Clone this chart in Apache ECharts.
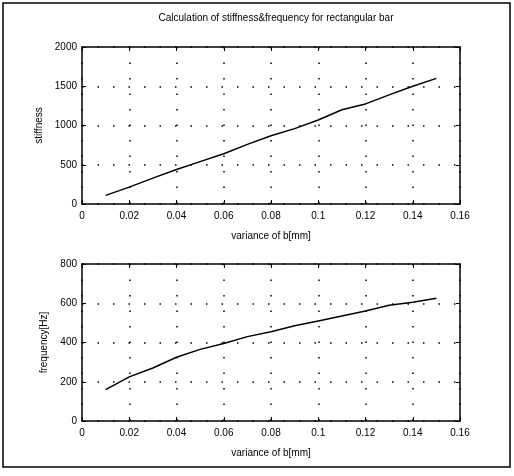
<!DOCTYPE html>
<html lang="en">
<head>
    <meta charset="UTF-8">
    <title>stiffness & frequency</title>
    <script src="https://cdn.jsdelivr.net/npm/echarts@6/dist/echarts.min.js"></script>
    <style>
        body { margin: 0; background: #fff; }
        #chart { width: 514px; height: 476px; }
    </style>
</head>
<body>
    <div id="chart"></div>
    <script>
    // variance of b [mm]
    const variance = [0.01, 0.02, 0.03, 0.04, 0.05, 0.06, 0.07, 0.08, 0.09, 0.10, 0.11, 0.12, 0.13, 0.14, 0.15];
    const stiffness = [110, 215, 330, 440, 540, 640, 760, 870, 960, 1070, 1200, 1275, 1390, 1500, 1600];
    const frequency = [160, 225, 270, 325, 365, 395, 430, 455, 485, 510, 535, 560, 590, 605, 625];

    const xRange = [0, 0.16, 0.02];
    const stiffRange = [0, 2000, 500];
    const freqRange = [0, 800, 200];

    var font = '"Liberation Sans", Arial, sans-serif';
    var gridDots = { show: true, lineStyle: { color: '#000', width: 1.5, type: [1.5, 14] } };

    function axisBase(gi, range) {
        return {
            gridIndex: gi, type: 'value', min: range[0], max: range[1], interval: range[2],
            axisLine: { show: true, onZero: false, lineStyle: { color: '#000', width: 1.5 } },
            axisTick: { show: true, inside: true, length: 4, lineStyle: { color: '#000' } },
            splitLine: { show: false }
        };
    }

    function xAxes(gi) {
        var base = axisBase(gi, xRange);
        return [
            Object.assign({}, base, {
                position: 'bottom',
                name: 'variance of b[mm]', nameLocation: 'middle', nameGap: 27,
                nameTextStyle: { color: '#000', fontSize: 10, fontFamily: font },
                axisLabel: { color: '#000', fontSize: 10, fontFamily: font, margin: 7,
                    formatter: v => String(+v.toFixed(2)) },
                splitLine: gridDots
            }),
            Object.assign({}, base, { position: 'top', axisLabel: { show: false } })
        ];
    }

    function yAxes(gi, range, name) {
        var base = axisBase(gi, range);
        return [
            Object.assign({}, base, {
                position: 'left',
                name: name, nameLocation: 'middle', nameGap: 33,
                nameTextStyle: { color: '#000', fontSize: 10, fontFamily: font },
                axisLabel: { color: '#000', fontSize: 10, fontFamily: font, margin: 5,
                    formatter: v => String(v) },
                splitLine: gridDots
            }),
            Object.assign({}, base, { position: 'right', axisLabel: { show: false } })
        ];
    }

    var chart = echarts.init(document.getElementById('chart'));
    var option = {
        backgroundColor: '#fff',
        animation: false,
        title: {
            text: 'Calculation of stiffness&frequency for rectangular bar',
            left: 271, top: 8, textAlign: 'center',
            textStyle: { color: '#000', fontSize: 10, fontWeight: 'normal', fontFamily: font }
        },
        graphic: [{
            type: 'rect',
            shape: { x: 3, y: 3, width: 507, height: 464 },
            style: { fill: 'none', stroke: '#000', lineWidth: 1.5 }
        }],
        grid: [
            { left: 82, top: 47, width: 378, height: 157 },
            { left: 82, top: 264, width: 378, height: 157 }
        ],
        xAxis: xAxes(0).concat(xAxes(1)),
        yAxis: yAxes(0, stiffRange, 'stiffness').concat(yAxes(1, freqRange, 'frequency[Hz]')),
        series: [
            {
                type: 'line', xAxisIndex: 0, yAxisIndex: 0, showSymbol: false,
                lineStyle: { color: '#000', width: 1.5 },
                data: variance.map((v, i) => [v, stiffness[i]])
            },
            {
                type: 'line', xAxisIndex: 2, yAxisIndex: 2, showSymbol: false,
                lineStyle: { color: '#000', width: 1.5 },
                data: variance.map((v, i) => [v, frequency[i]])
            }
        ]
    };
    chart.setOption(option);
    </script>
</body>
</html>
